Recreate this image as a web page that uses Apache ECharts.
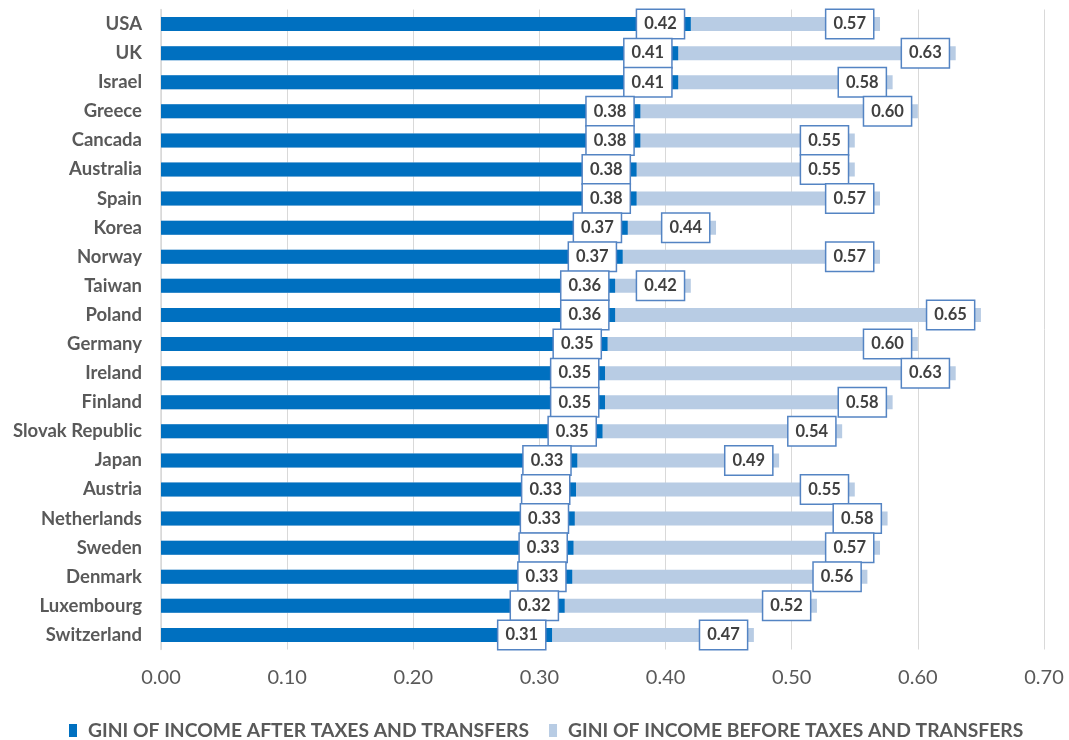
<!DOCTYPE html>
<html>
<head>
<meta charset="utf-8">
<script src="https://cdn.jsdelivr.net/npm/echarts@6/dist/echarts.min.js"></script>
<style>
html,body{margin:0;padding:0;background:#fff;}
#chart{width:1069px;height:740px;}
</style>
</head>
<body>
<div id="chart"></div>
<script>
const countries = ["USA","UK","Israel","Greece","Cancada","Australia","Spain","Korea","Norway","Taiwan","Poland","Germany","Ireland","Finland","Slovak Republic","Japan","Austria","Netherlands","Sweden","Denmark","Luxembourg","Switzerland"];
const giniAfter = [0.420,0.410,0.410,0.380,0.380,0.377,0.377,0.370,0.366,0.360,0.360,0.354,0.352,0.352,0.350,0.330,0.329,0.328,0.327,0.326,0.320,0.310];
const giniBefore = [0.570,0.630,0.580,0.600,0.550,0.550,0.570,0.440,0.570,0.420,0.650,0.600,0.630,0.580,0.540,0.490,0.550,0.576,0.570,0.560,0.520,0.470];
const xTicks = {min:0, max:0.7, interval:0.1};
const seriesNames = ["GINI OF INCOME AFTER TAXES AND TRANSFERS","GINI OF INCOME BEFORE TAXES AND TRANSFERS"];

const FONT = 'Lato';
const labelStyle = {
  show: true,
  position: 'insideRight',
  distance: 7,
  formatter: p => p.value.toFixed(2),
  color: '#404040',
  fontFamily: FONT,
  fontWeight: 'bold',
  fontSize: 16.5,
  lineHeight: 18,
  backgroundColor: '#ffffff',
  borderColor: '#5484c3',
  borderWidth: 1.5,
  padding: [5, 7, 5, 7]
};

const chart = echarts.init(document.getElementById('chart'), null, {renderer:'canvas'});
chart.setOption({
  animation: false,
  backgroundColor: '#ffffff',
  grid: {left: 161, right: 25, top: 9.5, bottom: 90.5, containLabel: false},
  legend: {
    left: 64,
    top: 716,
    itemWidth: 8,
    itemHeight: 13,
    itemGap: 20,
    icon: 'rect',
    data: seriesNames,
    textStyle: {fontFamily: FONT, fontWeight: 'bold', fontSize: 19.3, color: '#595959', padding: [0,0,0,6]}
  },
  xAxis: {
    type: 'value',
    min: xTicks.min, max: xTicks.max, interval: xTicks.interval,
    axisLine: {show: false},
    axisTick: {show: false},
    splitLine: {show: true, lineStyle: {color: '#d9d9d9', width: 1}},
    axisLabel: {formatter: v => v.toFixed(2), fontFamily: FONT, fontSize: 20, color: '#595959', margin: 18}
  },
  yAxis: {
    type: 'category',
    data: countries,
    inverse: true,
    axisLine: {show: true, lineStyle: {color: '#d9d9d9', width: 1.5}},
    axisTick: {show: false},
    axisLabel: {fontFamily: FONT, fontWeight: 'bold', fontSize: 18.5, color: '#595959', margin: 19}
  },
  series: [
    {
      name: seriesNames[0],
      type: 'bar',
      data: giniAfter,
      barWidth: 14,
      barGap: '-100%',
      z: 3,
      itemStyle: {color: '#0070c0'},
      label: labelStyle
    },
    {
      name: seriesNames[1],
      type: 'bar',
      data: giniBefore,
      barWidth: 14,
      barGap: '-100%',
      z: 2,
      itemStyle: {color: '#b8cce4'},
      label: labelStyle
    }
  ]
});
</script>
</body>
</html>
